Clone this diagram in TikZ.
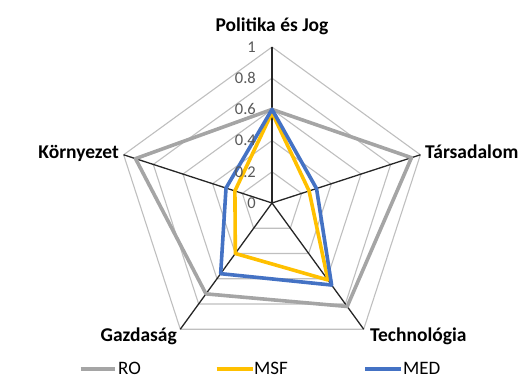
\documentclass[tikz,border=0pt]{standalone}
\usepackage{fontspec}
\setmainfont{Carlito}
\definecolor{gridgray}{HTML}{BFBFBF}
\definecolor{tickgray}{HTML}{595959}
\definecolor{rogray}{HTML}{A5A5A5}
\definecolor{msfgold}{HTML}{FFC000}
\definecolor{medblue}{HTML}{4472C4}
\begin{document}
\begin{tikzpicture}[x=1pt,y=1pt,
  gridline/.style={draw=gridgray, line width=1.1pt},
  axisline/.style={draw=black!85, line width=1.3pt},
  series/.style={line width=3.6pt, line join=round},
  axlabel/.style={font=\fontsize{19.5}{22}\selectfont\bfseries, inner sep=0pt},
  ticklabel/.style={font=\fontsize{16.5}{18}\selectfont, text=tickgray, anchor=east, inner sep=0pt},
  legtext/.style={font=\fontsize{19}{22}\selectfont, anchor=west, inner sep=0pt},
  legline/.style={line width=3.6pt}]
\useasboundingbox (0,-379) rectangle (525,0);
\begin{scope}[shift={(272,-203)}]
  % grid
  \foreach \r in {0.2,0.4,0.6,0.8,1.0} {
    \draw[gridline] ({90}:{156*\r}) -- ({18}:{156*\r}) -- ({-54}:{156*\r}) -- ({-126}:{156*\r}) -- ({162}:{156*\r}) -- cycle;
  }
  % axes
  \coordinate (C) at (0,0);
  \coordinate (P) at (90:156);
  \coordinate (T) at (18:156);
  \coordinate (Te) at (-54:156);
  \coordinate (G) at (-126:156);
  \coordinate (K) at (162:156);
  \foreach \v in {P,T,Te,G,K} \draw[axisline] (C) -- (\v);
  % series
  \draw[series, rogray] ({90}:{156*0.60}) -- ({18}:{156*0.94}) -- ({-54}:{156*0.82}) -- ({-126}:{156*0.72}) -- ({162}:{156*0.92}) -- cycle;
  \draw[series, msfgold] ({90}:{156*0.58}) -- ({18}:{156*0.25}) -- ({-54}:{156*0.61}) -- ({-126}:{156*0.40}) -- ({162}:{156*0.25}) -- cycle;
  \draw[series, medblue] ({90}:{156*0.60}) -- ({18}:{156*0.30}) -- ({-54}:{156*0.65}) -- ({-126}:{156*0.56}) -- ({162}:{156*0.31}) -- cycle;
  % tick labels
  \node[ticklabel] (t0) at (-16,0) {0};
  \node[ticklabel] (t2) at (-16,31.2) {0.2};
  \node[ticklabel] (t4) at (-16,62.4) {0.4};
  \node[ticklabel] (t6) at (-16,93.6) {0.6};
  \node[ticklabel] (t8) at (-16,124.8) {0.8};
  \node[ticklabel] (t10) at (-16,156) {1};
\end{scope}
% axis labels
\node[axlabel, anchor=base] (lP) at (272,-31.5) {Politika és Jog};
\node[axlabel, anchor=base west] (lT) at (425,-159) {Társadalom};
\node[axlabel, anchor=base east] (lK) at (119,-158.5) {Környezet};
\node[axlabel, anchor=base east] (lG) at (177,-341.7) {Gazdaság};
\node[axlabel, anchor=base west] (lTe) at (370,-341.7) {Technológia};
% legend
\coordinate (ro1) at (80.7,-369); \coordinate (ro2) at (115,-369);
\coordinate (ms1) at (216.7,-369); \coordinate (ms2) at (252.7,-369);
\coordinate (me1) at (365,-369); \coordinate (me2) at (400.7,-369);
\draw[legline, rogray] (ro1) -- (ro2);
\draw[legline, msfgold] (ms1) -- (ms2);
\draw[legline, medblue] (me1) -- (me2);
\node[legtext] (lro) at (118,-368.3) {RO};
\node[legtext] (lms) at (254,-368.3) {MSF};
\node[legtext] (lme) at (403,-368.3) {MED};
\end{tikzpicture}
\end{document}
